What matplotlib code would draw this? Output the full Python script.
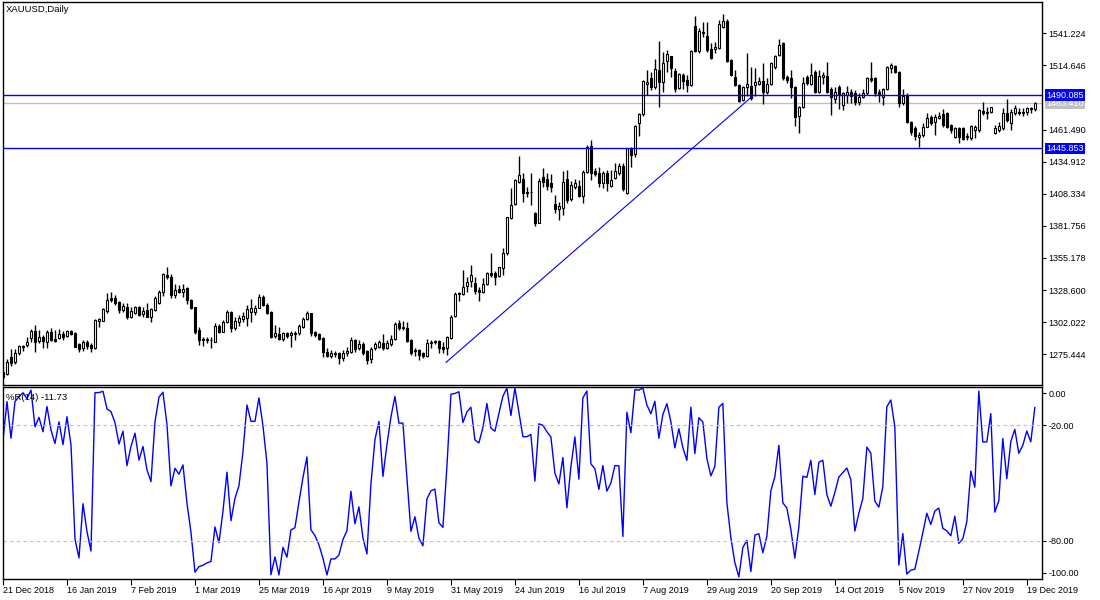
import matplotlib.pyplot as plt
import numpy as np

# XAUUSD daily candles, 21 Dec 2018 .. 20 Dec 2019
opens = [
    1260.5, 1258.8, 1273.5, 1268.8, 1276.2, 1281.7, 1283.1, 1288.6, 1294.7, 1286.2,
    1290.0, 1285.3, 1294.2, 1288.1, 1288.6, 1292.2, 1290.6, 1294.7, 1293.3, 1284.0,
    1280.4, 1285.9, 1283.1, 1280.4, 1303.0, 1303.3, 1311.5, 1321.8, 1321.8, 1319.0,
    1312.1, 1314.9, 1306.6, 1309.3, 1314.9, 1308.8, 1312.1, 1306.6, 1312.1, 1317.6,
    1326.7, 1341.1, 1339.1, 1324.5, 1329.5, 1327.3, 1330.0, 1320.4, 1314.3, 1295.5,
    1288.1, 1287.0, 1287.5, 1285.9, 1299.1, 1294.2, 1301.9, 1310.2, 1296.9, 1302.4,
    1304.4, 1305.2, 1310.2, 1310.7, 1314.0, 1323.1, 1316.2, 1310.7, 1290.8, 1292.0,
    1288.1, 1292.8, 1291.4, 1292.0, 1292.8, 1298.3, 1304.4, 1309.3, 1294.2, 1292.0,
    1289.2, 1277.6, 1274.3, 1275.4, 1276.8, 1272.6, 1276.2, 1277.6, 1287.3, 1280.4,
    1283.7, 1278.2, 1271.5, 1280.4, 1281.7, 1284.5, 1281.0, 1283.7, 1288.1, 1301.1,
    1298.3, 1297.5, 1287.3, 1277.8, 1279.0, 1276.3, 1274.1, 1284.5, 1285.9, 1286.7,
    1281.8, 1280.4, 1288.7, 1307.4, 1325.4, 1325.4, 1332.0, 1336.4, 1334.2, 1329.0,
    1327.3, 1333.7, 1342.5, 1343.0, 1340.3, 1346.6, 1359.1, 1388.0, 1399.9, 1418.4,
    1420.3, 1410.1, 1409.5, 1392.2, 1384.5, 1422.0, 1420.3, 1417.6, 1399.9, 1395.5,
    1396.3, 1420.3, 1403.8, 1413.7, 1414.8, 1406.5, 1426.7, 1447.9, 1427.5, 1425.8,
    1417.0, 1425.8, 1414.8, 1421.1, 1425.3, 1431.4, 1408.7, 1445.1, 1441.3, 1467.2,
    1474.4, 1499.2, 1503.9, 1496.5, 1510.8, 1501.2, 1518.5, 1522.4, 1510.3, 1495.6,
    1506.7, 1502.5, 1498.4, 1547.3, 1526.8, 1542.0, 1539.0, 1527.9, 1527.9, 1528.8,
    1546.2, 1551.7, 1519.1, 1505.3, 1498.4, 1486.0, 1496.5, 1497.6, 1498.4, 1499.2,
    1501.7, 1492.9, 1499.2, 1513.0, 1523.2, 1533.5, 1505.3, 1503.9, 1496.5, 1472.7,
    1479.9, 1504.7, 1499.2, 1509.4, 1492.9, 1505.3, 1505.9, 1494.8, 1486.5, 1497.0,
    1481.8, 1490.1, 1492.9, 1491.5, 1484.6, 1488.7, 1491.5, 1503.9, 1503.9, 1492.9,
    1488.2, 1494.8, 1512.2, 1514.1, 1509.4, 1483.8, 1490.1, 1468.0, 1462.5, 1455.1,
    1457.0, 1463.9, 1472.2, 1468.0, 1470.8, 1474.4, 1475.5, 1465.3, 1455.1, 1462.5,
    1462.5, 1455.1, 1454.2, 1461.1, 1461.1, 1477.2, 1476.3, 1476.3, 1458.4, 1461.1,
    1462.5, 1475.5, 1466.7, 1475.5, 1476.3, 1474.9, 1476.3, 1479.1, 1478.3,
]
highs = [
    1261.0, 1271.3, 1279.5, 1279.5, 1283.1, 1283.1, 1289.5, 1296.1, 1299.7, 1295.5,
    1291.4, 1295.5, 1296.9, 1295.5, 1296.1, 1295.0, 1295.5, 1295.5, 1293.5, 1284.5,
    1287.3, 1287.3, 1284.5, 1304.6, 1305.2, 1313.5, 1325.9, 1326.7, 1324.5, 1319.5,
    1317.6, 1317.6, 1314.9, 1315.4, 1315.4, 1314.9, 1318.2, 1313.5, 1323.7, 1328.7,
    1343.0, 1348.0, 1341.9, 1333.6, 1332.8, 1333.6, 1330.9, 1320.9, 1314.9, 1298.3,
    1290.0, 1289.5, 1290.0, 1301.1, 1300.2, 1303.8, 1312.1, 1311.3, 1306.6, 1308.0,
    1310.7, 1316.2, 1321.2, 1316.2, 1325.1, 1324.5, 1317.6, 1311.3, 1299.7, 1298.3,
    1293.6, 1294.2, 1294.7, 1294.7, 1300.2, 1306.6, 1311.3, 1309.5, 1294.7, 1292.8,
    1290.0, 1280.9, 1279.0, 1278.2, 1277.6, 1279.0, 1281.7, 1290.0, 1288.1, 1287.3,
    1285.9, 1279.0, 1281.7, 1285.3, 1287.3, 1292.0, 1287.3, 1291.4, 1301.9, 1303.8,
    1303.0, 1301.9, 1288.1, 1280.4, 1279.6, 1277.6, 1287.9, 1287.3, 1287.3, 1287.3,
    1285.9, 1290.6, 1308.0, 1327.3, 1327.3, 1345.3, 1339.7, 1349.4, 1339.7, 1331.5,
    1338.4, 1343.9, 1359.1, 1344.7, 1348.0, 1363.2, 1389.4, 1412.9, 1420.3, 1439.7,
    1425.3, 1414.3, 1425.3, 1393.6, 1421.1, 1429.4, 1425.3, 1424.7, 1407.4, 1401.8,
    1427.5, 1428.1, 1419.2, 1420.3, 1419.8, 1428.1, 1448.8, 1452.9, 1429.4, 1430.8,
    1427.5, 1428.1, 1428.1, 1434.1, 1433.6, 1433.6, 1446.0, 1447.3, 1465.3, 1475.5,
    1502.5, 1510.8, 1509.4, 1519.7, 1535.1, 1526.0, 1527.4, 1522.6, 1512.2, 1508.6,
    1508.6, 1506.7, 1527.4, 1555.5, 1545.3, 1550.8, 1550.8, 1533.5, 1534.3, 1552.2,
    1557.2, 1552.8, 1519.7, 1510.8, 1499.2, 1497.6, 1524.6, 1513.0, 1512.2, 1505.3,
    1516.3, 1503.9, 1517.7, 1523.2, 1536.2, 1534.3, 1506.7, 1510.8, 1497.6, 1481.0,
    1505.3, 1506.7, 1516.3, 1510.8, 1510.8, 1509.4, 1517.7, 1496.5, 1497.0, 1498.4,
    1492.9, 1497.6, 1494.8, 1494.3, 1491.5, 1494.8, 1504.7, 1517.7, 1505.3, 1494.8,
    1495.6, 1514.1, 1516.9, 1515.0, 1510.3, 1494.8, 1491.5, 1468.9, 1464.5, 1459.8,
    1466.7, 1475.5, 1473.6, 1474.4, 1476.3, 1478.3, 1476.3, 1466.1, 1463.9, 1463.9,
    1463.9, 1458.4, 1465.3, 1465.3, 1478.3, 1484.6, 1480.5, 1480.5, 1465.3, 1468.0,
    1479.1, 1486.5, 1478.3, 1481.8, 1479.1, 1479.1, 1480.5, 1480.5, 1484.6,
]
lows = [
    1255.5, 1258.3, 1265.7, 1267.4, 1274.8, 1278.4, 1281.7, 1285.9, 1277.0, 1284.5,
    1280.4, 1280.4, 1286.4, 1285.9, 1287.8, 1287.3, 1289.5, 1291.4, 1281.2, 1277.6,
    1278.4, 1279.5, 1277.6, 1280.1, 1298.3, 1303.0, 1309.3, 1319.0, 1316.2, 1309.3,
    1310.7, 1304.4, 1305.2, 1308.5, 1307.1, 1306.6, 1306.0, 1302.4, 1311.5, 1317.1,
    1324.0, 1337.5, 1321.8, 1321.8, 1325.9, 1323.1, 1317.1, 1312.7, 1292.2, 1283.1,
    1282.3, 1285.1, 1280.9, 1285.3, 1292.8, 1293.6, 1301.1, 1293.6, 1295.5, 1299.1,
    1302.4, 1299.1, 1301.9, 1308.0, 1313.5, 1315.7, 1308.5, 1289.2, 1288.6, 1287.3,
    1286.4, 1288.6, 1281.7, 1287.3, 1291.4, 1296.9, 1303.8, 1290.8, 1290.0, 1287.3,
    1273.5, 1273.5, 1272.1, 1273.5, 1267.1, 1269.9, 1274.3, 1276.2, 1277.6, 1279.0,
    1274.8, 1267.1, 1267.9, 1279.0, 1280.4, 1279.0, 1279.8, 1282.6, 1287.3, 1295.5,
    1295.5, 1285.3, 1274.8, 1274.1, 1270.7, 1272.1, 1273.5, 1280.4, 1284.0, 1276.3,
    1276.3, 1274.9, 1287.9, 1306.6, 1319.9, 1324.6, 1327.3, 1331.5, 1325.4, 1319.9,
    1325.9, 1332.8, 1339.7, 1332.8, 1339.7, 1341.1, 1357.7, 1387.2, 1399.1, 1417.0,
    1401.8, 1406.0, 1399.1, 1381.7, 1383.9, 1414.3, 1411.5, 1410.1, 1392.2, 1386.7,
    1390.8, 1400.5, 1402.7, 1412.1, 1405.4, 1400.5, 1425.8, 1419.8, 1423.1, 1414.3,
    1412.9, 1411.0, 1413.7, 1420.3, 1423.9, 1411.0, 1408.1, 1430.2, 1439.1, 1456.2,
    1472.7, 1490.1, 1494.3, 1494.8, 1479.9, 1492.9, 1509.4, 1505.3, 1492.9, 1494.8,
    1494.8, 1492.9, 1497.6, 1526.0, 1525.2, 1538.4, 1526.0, 1519.7, 1524.6, 1527.9,
    1545.3, 1517.7, 1505.9, 1497.6, 1484.6, 1485.4, 1489.3, 1486.0, 1489.3, 1498.4,
    1482.7, 1491.0, 1498.4, 1511.4, 1522.4, 1502.5, 1500.3, 1487.4, 1464.4, 1458.9,
    1479.1, 1498.4, 1498.4, 1492.1, 1492.1, 1499.2, 1492.1, 1473.6, 1483.2, 1478.3,
    1477.7, 1483.2, 1483.2, 1481.8, 1481.8, 1487.4, 1490.1, 1501.2, 1489.3, 1484.6,
    1481.8, 1494.3, 1508.6, 1508.1, 1480.5, 1481.8, 1466.7, 1457.0, 1452.9, 1446.8,
    1455.6, 1463.3, 1465.3, 1457.0, 1470.0, 1463.9, 1462.5, 1458.4, 1454.2, 1450.7,
    1452.9, 1452.9, 1452.9, 1454.2, 1459.8, 1473.6, 1470.0, 1474.9, 1457.8, 1459.8,
    1461.1, 1468.0, 1461.1, 1473.6, 1473.6, 1472.7, 1473.6, 1474.9, 1477.2,
]
closes = [
    1256.3, 1268.8, 1267.9, 1276.2, 1282.3, 1282.0, 1285.9, 1294.7, 1285.3, 1289.5,
    1286.2, 1294.2, 1287.3, 1286.7, 1292.2, 1289.5, 1294.7, 1292.2, 1281.7, 1279.5,
    1285.9, 1282.6, 1280.4, 1303.8, 1304.4, 1312.7, 1320.4, 1320.4, 1317.6, 1312.1,
    1315.4, 1306.6, 1311.5, 1314.9, 1308.0, 1311.5, 1306.6, 1312.7, 1322.3, 1327.3,
    1341.9, 1339.1, 1324.5, 1328.7, 1327.3, 1329.5, 1320.4, 1313.5, 1294.2, 1287.3,
    1287.0, 1287.8, 1287.0, 1299.1, 1293.6, 1302.4, 1310.2, 1296.9, 1303.0, 1305.2,
    1307.4, 1312.9, 1314.0, 1314.0, 1322.6, 1316.2, 1309.3, 1290.0, 1292.8, 1288.1,
    1292.8, 1290.8, 1292.8, 1293.3, 1299.1, 1304.6, 1309.3, 1292.8, 1291.4, 1288.1,
    1277.6, 1274.3, 1276.2, 1276.2, 1272.6, 1276.2, 1278.2, 1287.3, 1279.8, 1283.7,
    1276.2, 1270.7, 1279.8, 1283.7, 1285.9, 1280.4, 1284.5, 1288.1, 1300.2, 1296.9,
    1296.9, 1286.4, 1276.2, 1279.0, 1274.9, 1274.1, 1284.5, 1285.9, 1286.2, 1280.4,
    1279.6, 1290.1, 1306.6, 1325.4, 1325.9, 1331.5, 1335.6, 1341.1, 1328.1, 1327.3,
    1333.7, 1343.0, 1341.1, 1339.7, 1347.5, 1359.6, 1388.9, 1399.1, 1419.8, 1423.9,
    1408.7, 1408.7, 1410.1, 1383.9, 1419.2, 1418.4, 1414.8, 1413.7, 1395.5, 1398.3,
    1418.4, 1403.2, 1415.6, 1417.0, 1406.5, 1426.7, 1447.4, 1425.3, 1424.7, 1417.6,
    1425.8, 1417.0, 1419.8, 1427.5, 1431.4, 1412.1, 1446.0, 1440.4, 1464.4, 1474.4,
    1502.0, 1501.2, 1496.5, 1511.4, 1501.2, 1516.9, 1524.1, 1512.2, 1494.8, 1507.5,
    1502.0, 1498.4, 1526.8, 1526.8, 1543.4, 1541.7, 1527.4, 1520.5, 1529.6, 1548.9,
    1551.7, 1518.5, 1506.7, 1498.4, 1485.4, 1496.5, 1499.2, 1487.4, 1501.2, 1501.7,
    1492.9, 1499.2, 1516.9, 1522.4, 1531.5, 1503.9, 1502.5, 1496.5, 1472.2, 1479.9,
    1500.3, 1499.8, 1506.7, 1492.9, 1505.9, 1506.7, 1492.9, 1488.2, 1492.9, 1490.1,
    1491.5, 1492.9, 1489.3, 1484.6, 1488.7, 1492.1, 1503.9, 1502.5, 1491.5, 1490.1,
    1494.8, 1513.6, 1515.0, 1509.4, 1483.2, 1489.3, 1468.0, 1459.8, 1456.2, 1457.0,
    1463.9, 1470.8, 1466.7, 1471.6, 1472.7, 1465.3, 1463.9, 1461.1, 1462.5, 1455.1,
    1453.4, 1456.2, 1464.5, 1463.9, 1477.7, 1474.9, 1474.9, 1479.9, 1462.5, 1464.5,
    1475.5, 1469.4, 1476.3, 1479.1, 1474.9, 1476.3, 1479.1, 1478.3, 1483.41,
]

# %R of the first 13 bars (their 14-day window reaches left of the chart)
wpr_warmup = [-27.3, -7.6, -26.7, -7.6, -5.0, -3.0, -6.0, -1.6, -20.7, -15.8, -23.3, -10.2, -22.4]

date_labels = ["21 Dec 2018", "16 Jan 2019", "7 Feb 2019", "1 Mar 2019", "25 Mar 2019",
               "16 Apr 2019", "9 May 2019", "31 May 2019", "24 Jun 2019", "16 Jul 2019",
               "7 Aug 2019", "29 Aug 2019", "20 Sep 2019", "14 Oct 2019", "5 Nov 2019",
               "27 Nov 2019", "19 Dec 2019"]
date_step = 16  # one label every 16 bars

price_ticks = [1275.444, 1302.022, 1328.600, 1355.178, 1381.756, 1408.334,
               1434.912, 1461.490, 1514.646, 1541.224]
h_levels = [1490.085, 1445.853]
trend_x = [110.8, 187.6]
trend_y = [1268.8, 1489.7]
wpr_period = 14
wpr_levels = [-20, -80]
wpr_text = "%R(14) -11.73"

BLUE = "#0000ff"
GREY = "#c0c0c0"

# Williams %R from the candles
hi = np.array(highs)
lo = np.array(lows)
cl = np.array(closes)
op = np.array(opens)
n = len(cl)
x = np.arange(n)
wpr = np.empty(n)
wpr[:len(wpr_warmup)] = wpr_warmup
for i in range(len(wpr_warmup), n):
    hh = hi[i - wpr_period + 1:i + 1].max()
    ll = lo[i - wpr_period + 1:i + 1].min()
    wpr[i] = -100 * (hh - cl[i]) / (hh - ll)

plt.rcParams['font.family'] = ['Liberation Sans', 'DejaVu Sans']
plt.rcParams['font.size'] = 6.5

W, H = 1100, 600
fig = plt.figure(figsize=(W / 100, H / 100), dpi=100)
fig.patch.set_facecolor("white")


def box(x0, y0, x1, y1):
    return [x0 / W, 1 - y1 / H, (x1 - x0) / W, (y1 - y0) / H]


ax = fig.add_axes(box(3, 2, 1042, 385))
axr = fig.add_axes(box(3, 387, 1042, 579), sharex=ax)

# candles
ax.vlines(x, lo, hi, color="black", linewidth=1, zorder=2)
up = cl >= op
body_h = np.maximum(np.abs(cl - op), 0.05)
body_b = np.minimum(cl, op)
ax.bar(x, body_h, bottom=body_b, width=0.55,
       color=np.where(up, "white", "black"), edgecolor="black",
       linewidth=0.8, zorder=3)

# lines drawn on the chart
for lv in h_levels:
    ax.axhline(lv, color=BLUE, linewidth=1.0, zorder=4)
ax.axhline(cl[-1], color=GREY, linewidth=1.0, zorder=1)
ax.plot(trend_x, trend_y, color=BLUE, linewidth=0.8, zorder=4)

ax.set_xlim(0.07, 259.8)
ax.set_ylim(1250.0, 1567.1)

ax.yaxis.tick_right()
ax.set_yticks(price_ticks)
ax.set_yticklabels([f"{v:.3f}" for v in price_ticks])
ax.tick_params(axis="y", direction="out", length=3, width=0.8, pad=1.5, colors="black")
ax.tick_params(axis="x", bottom=False, labelbottom=False)

# price boxes on the right scale
ax.annotate(f"{cl[-1]:.3f}", xy=(1, cl[-1]), xycoords=("axes fraction", "data"),
            xytext=(3, 0), textcoords="offset points", ha="left", va="center",
            color="white", fontsize=6.5, annotation_clip=False, zorder=5,
            bbox=dict(boxstyle="square,pad=0.15", facecolor=GREY, edgecolor="none"))
for lv in h_levels:
    ax.annotate(f"{lv:.3f}", xy=(1, lv), xycoords=("axes fraction", "data"),
                xytext=(3, 0), textcoords="offset points", ha="left", va="center",
                color="white", fontsize=6.5, annotation_clip=False, zorder=6,
                bbox=dict(boxstyle="square,pad=0.15", facecolor=BLUE, edgecolor="none"))

fig.text(6 / W, 1 - 10 / H, "XAUUSD,Daily", ha="left", va="center", fontsize=6.8)

# Williams %R panel
axr.plot(x, wpr, color=BLUE, linewidth=1)
for lv in wpr_levels:
    axr.axhline(lv, color=GREY, linewidth=0.8, linestyle=(0, (3, 3)))
axr.set_ylim(-100, 0)
axr.yaxis.tick_right()
axr.set_yticks([-3.3, -20, -80, -96.7])
axr.set_yticklabels(["0.00", "-20.00", "-80.00", "-100.00"])
axr.tick_params(axis="y", direction="out", length=3, width=0.8, pad=1.5)
fig.text(6 / W, 1 - 397 / H, wpr_text, ha="left", va="center", fontsize=6.8)

tick_pos = np.arange(len(date_labels)) * date_step
axr.set_xticks(tick_pos)
axr.set_xticklabels(date_labels, ha="left")
axr.tick_params(axis="x", direction="out", length=4, width=0.8, pad=1)

for a in (ax, axr):
    for sp in a.spines.values():
        sp.set_color("black")
        sp.set_linewidth(1)

fig.savefig("out.png", dpi=100, facecolor="white")
